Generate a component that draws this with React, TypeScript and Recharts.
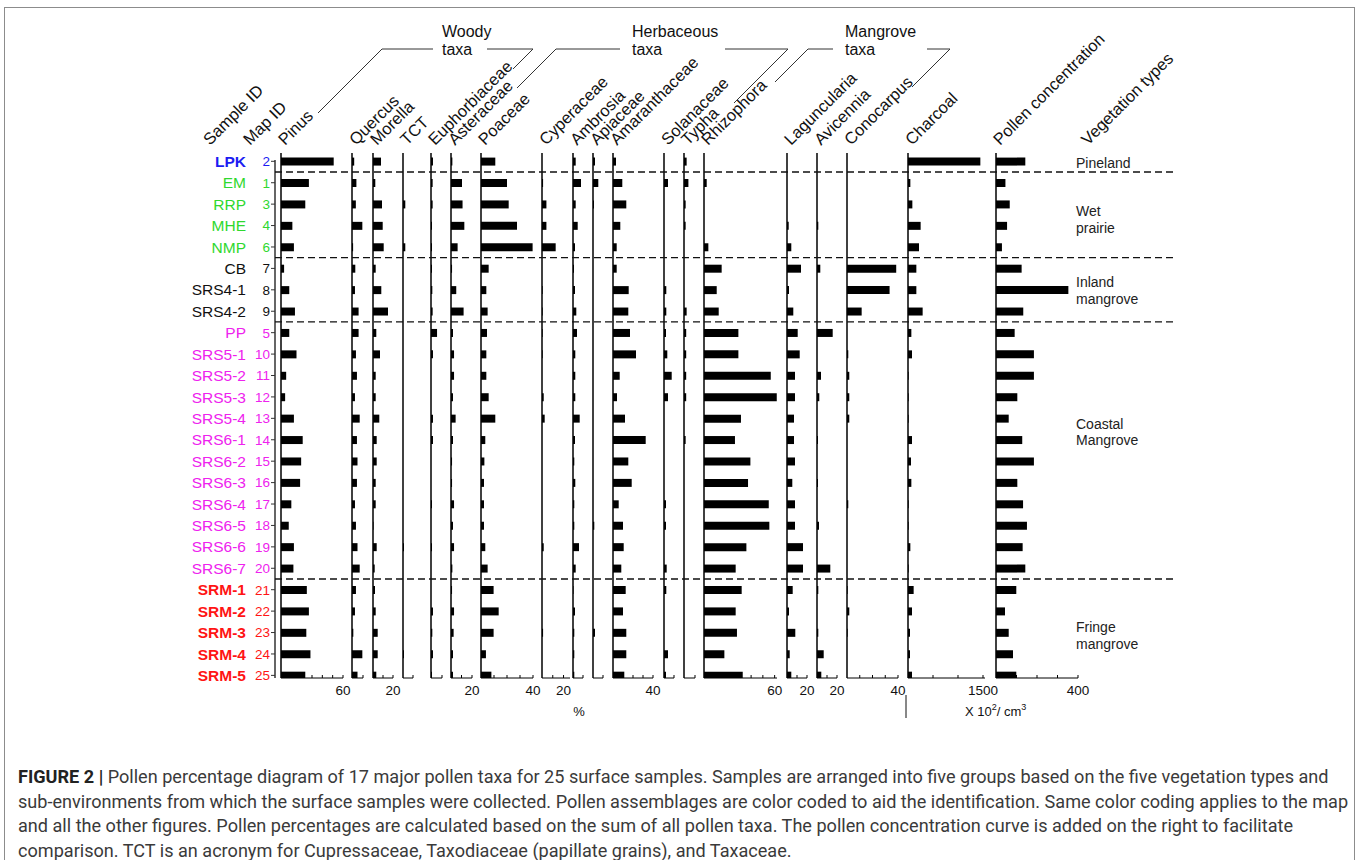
import React from 'react'
import { BarChart, Bar, XAxis, YAxis, ReferenceLine } from 'recharts'

// samples, top to bottom
const SAMPLE_IDS = [
  'LPK', 'EM', 'RRP', 'MHE', 'NMP', 'CB', 'SRS4-1', 'SRS4-2', 'PP', 'SRS5-1', 'SRS5-2', 'SRS5-3', 'SRS5-4',
  'SRS6-1', 'SRS6-2', 'SRS6-3', 'SRS6-4', 'SRS6-5', 'SRS6-6', 'SRS6-7', 'SRM-1', 'SRM-2', 'SRM-3', 'SRM-4', 'SRM-5'
]
const MAP_IDS = [2, 1, 3, 4, 6, 7, 8, 9, 5, 10, 11, 12, 13, 14, 15, 16, 17, 18, 19, 20, 21, 22, 23, 24, 25]
const SAMPLE_GROUPS = [
  'pine', 'wet', 'wet', 'wet', 'wet', 'inland', 'inland', 'inland',
  'coastal', 'coastal', 'coastal', 'coastal', 'coastal', 'coastal', 'coastal', 'coastal', 'coastal', 'coastal', 'coastal', 'coastal',
  'fringe', 'fringe', 'fringe', 'fringe', 'fringe'
]

// pollen percentages (%)
const pinus = [51, 27, 23.5, 11, 12.5, 3, 8, 13.5, 8, 15, 5, 4, 12.5, 21, 19.5, 18.5, 10, 7.5, 12.5, 12, 25, 27, 24.5, 28.5, 23.5]
const quercus = [2, 4, 3.5, 9.4, 1, 3, 2.7, 6, 6, 3.6, 4.5, 2.7, 7, 4.5, 5, 4.5, 2.7, 3.6, 5, 7, 3.6, 2.7, 1.2, 9.4, 5]
const morella = [8, 2.3, 9, 9.7, 10.7, 2.7, 8.3, 15, 3.3, 7, 2.7, 2.7, 6.3, 3.7, 3.7, 2.7, 2.7, 0.5, 3.7, 1.7, 2, 2.7, 4.7, 4.7, 3.3]
const tct = [0, 0, 2.3, 0, 2.3, 0, 0, 0, 0, 0, 0, 0, 0, 0, 0, 0, 0, 0, 1, 0, 0, 0, 0, 1, 0]
const euphorbiaceae = [1.8, 1.5, 1.5, 0.9, 0.9, 0.9, 1.2, 1.5, 5.5, 1.8, 0, 0, 1.8, 1.8, 0, 0, 0.9, 0, 0.9, 0, 0, 1.8, 1.2, 1.8, 0.9]
const asteraceae = [1.3, 10.5, 11, 12.7, 6.3, 1, 5, 12, 1.9, 2.9, 2.9, 1.9, 4.4, 1.9, 1, 1, 2.9, 1.9, 2.9, 1.3, 1, 2.9, 2.5, 1.9, 1.9]
const poaceae = [11, 20, 21.3, 27.7, 39.7, 5.9, 4.1, 5.1, 4.6, 4.1, 4.1, 5.9, 11, 3.3, 2.6, 2.3, 2.3, 2.3, 3.3, 5.1, 9.7, 13.6, 9.7, 3.8, 8]
const cyperaceae = [0, 1, 4.1, 4.1, 12.7, 0, 0.6, 0.6, 0.6, 0.6, 0, 1.6, 2.5, 0, 0, 0, 0, 0, 1.6, 0, 0, 0, 1, 0, 0]
const ambrosia = [2.7, 8, 2.7, 4.7, 2, 1, 2, 3.3, 4, 2.3, 2.3, 2.3, 6.7, 2, 1.3, 2.3, 1.3, 1.3, 6, 2.7, 0.5, 2, 1.3, 1.3, 1.3]
const apiaceae = [2, 5.3, 1, 0, 0, 0, 0, 0, 0, 0, 0, 0, 0, 0, 0, 0, 0, 1.3, 0, 0, 0, 0, 2, 0, 0]
const amaranthaceae = [3, 9.3, 13.3, 7.3, 3.7, 3.7, 15.7, 15.3, 17, 23, 6.7, 4, 12, 32.7, 15.3, 18.7, 5.7, 10, 10.7, 8.3, 12.7, 10, 13.3, 13.3, 11.3]
const solanaceae = [0, 4, 0, 0, 0, 0, 2.3, 2.3, 2, 3.3, 7.7, 4, 0, 0, 0, 0, 2, 2, 0, 2.7, 2.3, 0, 0, 4, 2]
const typha = [2.4, 4, 1.5, 1.5, 0, 0, 0, 2.4, 2, 2, 2, 2, 0, 1.5, 0, 0, 0, 0, 0, 0, 0, 0, 0, 0, 0]
const rhizophora = [0, 2.3, 0, 0, 3.7, 15, 10.8, 12.5, 29.2, 29.2, 56.7, 61.8, 31.4, 26.3, 39.4, 37.4, 55, 55.5, 36, 26.9, 32, 26.9, 28, 17.3, 32.9]
const laguncularia = [0, 0, 0, 1.7, 4.3, 14, 2, 6.3, 10.7, 12.7, 8, 8, 7, 7, 8, 5.3, 8, 8, 16, 16, 5.7, 2, 8.3, 2.7, 4.3]
const avicennia = [0, 0, 0, 1.3, 0, 3.3, 0, 0, 15.7, 0, 4, 2.3, 0, 1, 0, 1, 0, 2, 0, 13.3, 1.3, 0, 1.3, 6.7, 4.3]
const conocarpus = [0, 0, 0, 0, 0, 38.6, 33.4, 11.5, 0, 1, 1.8, 1.8, 1.8, 0, 0, 0, 1, 0, 0, 0, 0.5, 1.8, 0.5, 0, 0]
// charcoal and pollen concentration (x 10^2 / cm3)
const charcoal = [1447, 47, 87, 253, 220, 167, 167, 293, 67, 80, 13, 13, 13, 80, 60, 67, 13, 13, 47, 13, 113, 80, 40, 40, 80]
const pollenConc = [143, 46, 67, 54, 29, 125, 353, 133, 91, 185, 185, 104, 62, 128, 185, 104, 132, 151, 130, 143, 99, 44, 62, 83, 99]

const VEGETATION_LABELS = [
  { lines: ['Pineland'], row: 0.08 },
  { lines: ['Wet', 'prairie'], row: 2.74 },
  { lines: ['Inland', 'mangrove'], row: 6.05 },
  { lines: ['Coastal', 'Mangrove'], row: 12.66 },
  { lines: ['Fringe', 'mangrove'], row: 22.14 }
]

// column layout: x = baseline in px, len = axis length in px
const COLUMNS = [
  { name: 'Pinus', values: pinus, x: 281, len: 62, max: 60, ticks: [10, 20, 30, 40, 50, 60], label: 60 },
  { name: 'Quercus', values: quercus, x: 352, len: 11, max: 10, ticks: [10] },
  { name: 'Morella', values: morella, x: 373, len: 20, max: 20, ticks: [10, 20], label: 20 },
  { name: 'TCT', values: tct, x: 403, len: 10, max: 10, ticks: [10] },
  { name: 'Euphorbiaceae', values: euphorbiaceae, x: 431, len: 11, max: 10, ticks: [10] },
  { name: 'Asteraceae', values: asteraceae, x: 451, len: 21, max: 20, ticks: [10, 20], label: 20 },
  { name: 'Poaceae', values: poaceae, x: 481, len: 52, max: 40, ticks: [10, 20, 30, 40], label: 40 },
  { name: 'Cyperaceae', values: cyperaceae, x: 542, len: 28, max: 26, ticks: [10, 20], label: 20 },
  { name: 'Ambrosia', values: ambrosia, x: 573, len: 10, max: 10, ticks: [10] },
  { name: 'Apiaceae', values: apiaceae, x: 593, len: 10, max: 10, ticks: [10] },
  { name: 'Amaranthaceae', values: amaranthaceae, x: 613, len: 40, max: 40, ticks: [10, 20, 30, 40], label: 40 },
  { name: 'Solanaceae', values: solanaceae, x: 664, len: 10, max: 10, ticks: [10] },
  { name: 'Typha', values: typha, x: 684, len: 11, max: 10, ticks: [10] },
  { name: 'Rhizophora', values: rhizophora, x: 704, len: 73, max: 62, ticks: [10, 20, 30, 40, 50, 60], label: 60 },
  { name: 'Laguncularia', values: laguncularia, x: 787, len: 20, max: 20, ticks: [10, 20], label: 20 },
  { name: 'Avicennia', values: avicennia, x: 817, len: 20, max: 20, ticks: [10, 20], label: 20 },
  { name: 'Conocarpus', values: conocarpus, x: 847, len: 51, max: 40, ticks: [10, 20, 30, 40], label: 40 },
  { name: 'Charcoal', values: charcoal, x: 908, len: 77, max: 1540, ticks: [500, 1000, 1500], label: 1500 },
  { name: 'Pollen concentration', values: pollenConc, x: 996, len: 82, max: 400, ticks: [100, 200, 300, 400], label: 400 }
]

const GROUP_STYLE: Record<string, { color: string; bold: boolean }> = {
  pine: { color: '#1c1cf2', bold: true },
  wet: { color: '#2fd82f', bold: false },
  inland: { color: '#111', bold: false },
  coastal: { color: '#ee22ee', bold: false },
  fringe: { color: '#ff1414', bold: true }
}

const FONT = '"Liberation Sans", Arial, Helvetica, sans-serif'
const Y0 = 161.3
const STEP = 21.42
const PLOT_TOP = 153
const PLOT_BOTTOM = 678
const toRow = (y: number) => (y - Y0) / STEP
const ROW_TICKS = SAMPLE_IDS.map((_, i) => i)
const GROUP_BREAKS = SAMPLE_GROUPS.map((g, i) => (i > 0 && g !== SAMPLE_GROUPS[i - 1] ? i - 0.5 : null)).filter(
  (v) => v !== null
) as number[]

function TaxonColumn({ col }: { col: any }) {
  const data = col.values.map((v: number, i: number) => ({ idx: i, v }))
  const renderTick = (p: any) => {
    const { x, y, payload } = p
    return (
      <g>
        <line x1={x} x2={x} y1={y} y2={y - 3} stroke='#000' strokeWidth={1} />
        {payload.value === col.label && (
          <text x={x} y={y + 17} textAnchor='middle' fontSize={13.5} fill='#111'>
            {col.label}
          </text>
        )}
      </g>
    )
  }
  return (
    <div style={{ position: 'absolute', left: col.x - 3, top: PLOT_TOP }}>
      <BarChart
        width={col.len + 25}
        height={PLOT_BOTTOM - PLOT_TOP + 24}
        layout='vertical'
        data={data}
        margin={{ top: 0, right: 22, bottom: 0, left: 2 }}
      >
        <XAxis
          type='number'
          domain={[0, col.max]}
          allowDataOverflow
          ticks={col.ticks}
          interval={0}
          tickSize={0}
          tickMargin={0}
          tickLine={false}
          tick={renderTick}
          height={24}
          axisLine={{ stroke: '#000', strokeWidth: 1 }}
        />
        <YAxis
          type='number'
          dataKey='idx'
          domain={[toRow(PLOT_TOP), toRow(PLOT_BOTTOM)]}
          allowDataOverflow
          ticks={ROW_TICKS}
          width={1}
          tick={false}
          tickLine={false}
          axisLine={{ stroke: '#000', strokeWidth: 1.5 }}
        />
        <Bar dataKey='v' fill='#000' barSize={8} isAnimationActive={false} />
      </BarChart>
    </div>
  )
}

function SampleAxis() {
  const top = 160
  const pad = 12
  const data = SAMPLE_IDS.map((_, i) => ({ idx: i, v: 0 }))
  const renderTick = (p: any) => {
    const { x, y, payload } = p
    const i = payload.value
    const st = GROUP_STYLE[SAMPLE_GROUPS[i]]
    return (
      <g>
        <text x={x} y={y} dy='0.36em' textAnchor='end' fontSize={13.5} fill={st.color}>
          {MAP_IDS[i]}
        </text>
        <text
          x={x - 24}
          y={y}
          dy='0.36em'
          textAnchor='end'
          fontSize={15.5}
          fontWeight={st.bold ? 'bold' : 'normal'}
          fill={st.color}
        >
          {SAMPLE_IDS[i]}
        </text>
      </g>
    )
  }
  return (
    <div style={{ position: 'absolute', left: 0, top: top - pad }}>
      <BarChart
        width={280}
        height={PLOT_BOTTOM - top + 2 * pad}
        layout='vertical'
        data={data}
        margin={{ top: pad, right: 4, bottom: pad, left: 0 }}
      >
        <XAxis type='number' hide domain={[0, 1]} />
        <YAxis
          type='number'
          dataKey='idx'
          domain={[toRow(top), toRow(PLOT_BOTTOM)]}
          allowDataOverflow
          ticks={ROW_TICKS}
          interval={0}
          width={275}
          tickSize={4}
          tickMargin={1}
          tick={renderTick}
          tickLine={{ stroke: '#333' }}
          axisLine={{ stroke: '#333', strokeWidth: 1.5 }}
        />
        <Bar dataKey='v' fill='#000' isAnimationActive={false} />
      </BarChart>
    </div>
  )
}

function GroupBreaks() {
  const data = SAMPLE_IDS.map((_, i) => ({ idx: i, v: 0 }))
  return (
    <div style={{ position: 'absolute', left: 275, top: PLOT_TOP }}>
      <BarChart
        width={898}
        height={PLOT_BOTTOM - PLOT_TOP}
        layout='vertical'
        data={data}
        margin={{ top: 0, right: 0, bottom: 0, left: 0 }}
      >
        <XAxis type='number' hide domain={[0, 1]} />
        <YAxis type='number' dataKey='idx' hide domain={[toRow(PLOT_TOP), toRow(PLOT_BOTTOM)]} allowDataOverflow />
        <Bar dataKey='v' fill='none' isAnimationActive={false} />
        {GROUP_BREAKS.map((b) => (
          <ReferenceLine key={b} y={b} stroke='#111' strokeWidth={1.3} strokeDasharray='7 4' />
        ))}
      </BarChart>
    </div>
  )
}

function Header() {
  const rot = (x: number, y: number) => `translate(${x} ${y}) rotate(-45)`
  return (
    <svg width={1358} height={160} style={{ position: 'absolute', left: 0, top: 0 }}>
      <g fontSize={16.5} fill='#111'>
        <text transform={rot(210, 146)}>Sample ID</text>
        <text transform={rot(250, 146)}>Map ID</text>
        {COLUMNS.map((c) => (
          <text key={c.name} transform={rot(c.x + 4, 146)}>
            {c.name}
          </text>
        ))}
        <text transform={rot(1088, 146)}>Vegetation types</text>
      </g>
      <g fontSize={16} fill='#111'>
        <text x={442} y={37}>Woody</text>
        <text x={442} y={55}>taxa</text>
        <text x={632} y={37}>Herbaceous</text>
        <text x={632} y={55}>taxa</text>
        <text x={845} y={37}>Mangrove</text>
        <text x={845} y={55}>taxa</text>
      </g>
      <g fill='none' stroke='#333' strokeWidth={1}>
        <polyline points='318,113 382,49 433,49' />
        <polyline points='487,49 533,49 513,69' />
        <polyline points='517,88 556,49 620,49' />
        <polyline points='725,49 788,49 734,103' />
        <polyline points='775,82 808,49 833,49' />
        <polyline points='927,49 950,49 912,87' />
      </g>
    </svg>
  )
}

function Footer() {
  return (
    <svg width={1358} height={40} style={{ position: 'absolute', left: 0, top: 690 }}>
      <text x={579} y={26} fontSize={13} textAnchor='middle' fill='#111'>
        %
      </text>
      <line x1={906} x2={906} y1={5} y2={28} stroke='#111' strokeWidth={1} />
      <text x={965} y={26} fontSize={13} fill='#111'>
        X 10<tspan dy={-6} fontSize={9}>2</tspan>
        <tspan dy={6}>/ cm</tspan>
        <tspan dy={-6} fontSize={9}>3</tspan>
      </text>
    </svg>
  )
}

const CAPTION = [
  'Pollen percentage diagram of 17 major pollen taxa for 25 surface samples. Samples are arranged into five groups based on the five vegetation types and',
  'sub-environments from which the surface samples were collected. Pollen assemblages are color coded to aid the identification. Same color coding applies to the map',
  'and all the other figures. Pollen percentages are calculated based on the sum of all pollen taxa. The pollen concentration curve is added on the right to facilitate',
  'comparison. TCT is an acronym for Cupressaceae, Taxodiaceae (papillate grains), and Taxaceae.'
]

export default function App() {
  return (
    <div
      style={{
        position: 'absolute',
        left: 0,
        top: 0,
        width: 1358,
        height: 860,
        overflow: 'hidden',
        background: '#fff',
        fontFamily: FONT
      }}
    >
      <div
        style={{
          position: 'absolute',
          left: 4,
          top: 7,
          width: 1349,
          height: 860,
          borderTop: '1.5px solid #8c8c8c',
          borderLeft: '1.5px solid #8c8c8c',
          borderRight: '1.5px solid #8c8c8c'
        }}
      />
      <Header />
      <SampleAxis />
      {COLUMNS.map((c) => (
        <TaxonColumn key={c.name} col={c} />
      ))}
      <GroupBreaks />
      {VEGETATION_LABELS.map((v) => (
        <div
          key={v.lines[0]}
          style={{
            position: 'absolute',
            left: 1076,
            top: Y0 + v.row * STEP - (v.lines.length * 16.5) / 2,
            fontSize: 14,
            lineHeight: '16.5px',
            color: '#222',
            whiteSpace: 'nowrap'
          }}
        >
          {v.lines.map((l) => (
            <div key={l}>{l}</div>
          ))}
        </div>
      ))}
      <Footer />
      <div
        style={{
          position: 'absolute',
          left: 18,
          top: 765,
          fontFamily: 'Roboto, "Liberation Sans", sans-serif',
          fontSize: 18.1,
          lineHeight: '24.5px',
          color: '#3a3a3a',
          whiteSpace: 'nowrap'
        }}
      >
        {CAPTION.map((line, i) => (
          <div key={i}>
            {i === 0 && <b style={{ color: '#222' }}>FIGURE 2 | </b>}
            {line}
          </div>
        ))}
      </div>
    </div>
  )
}
